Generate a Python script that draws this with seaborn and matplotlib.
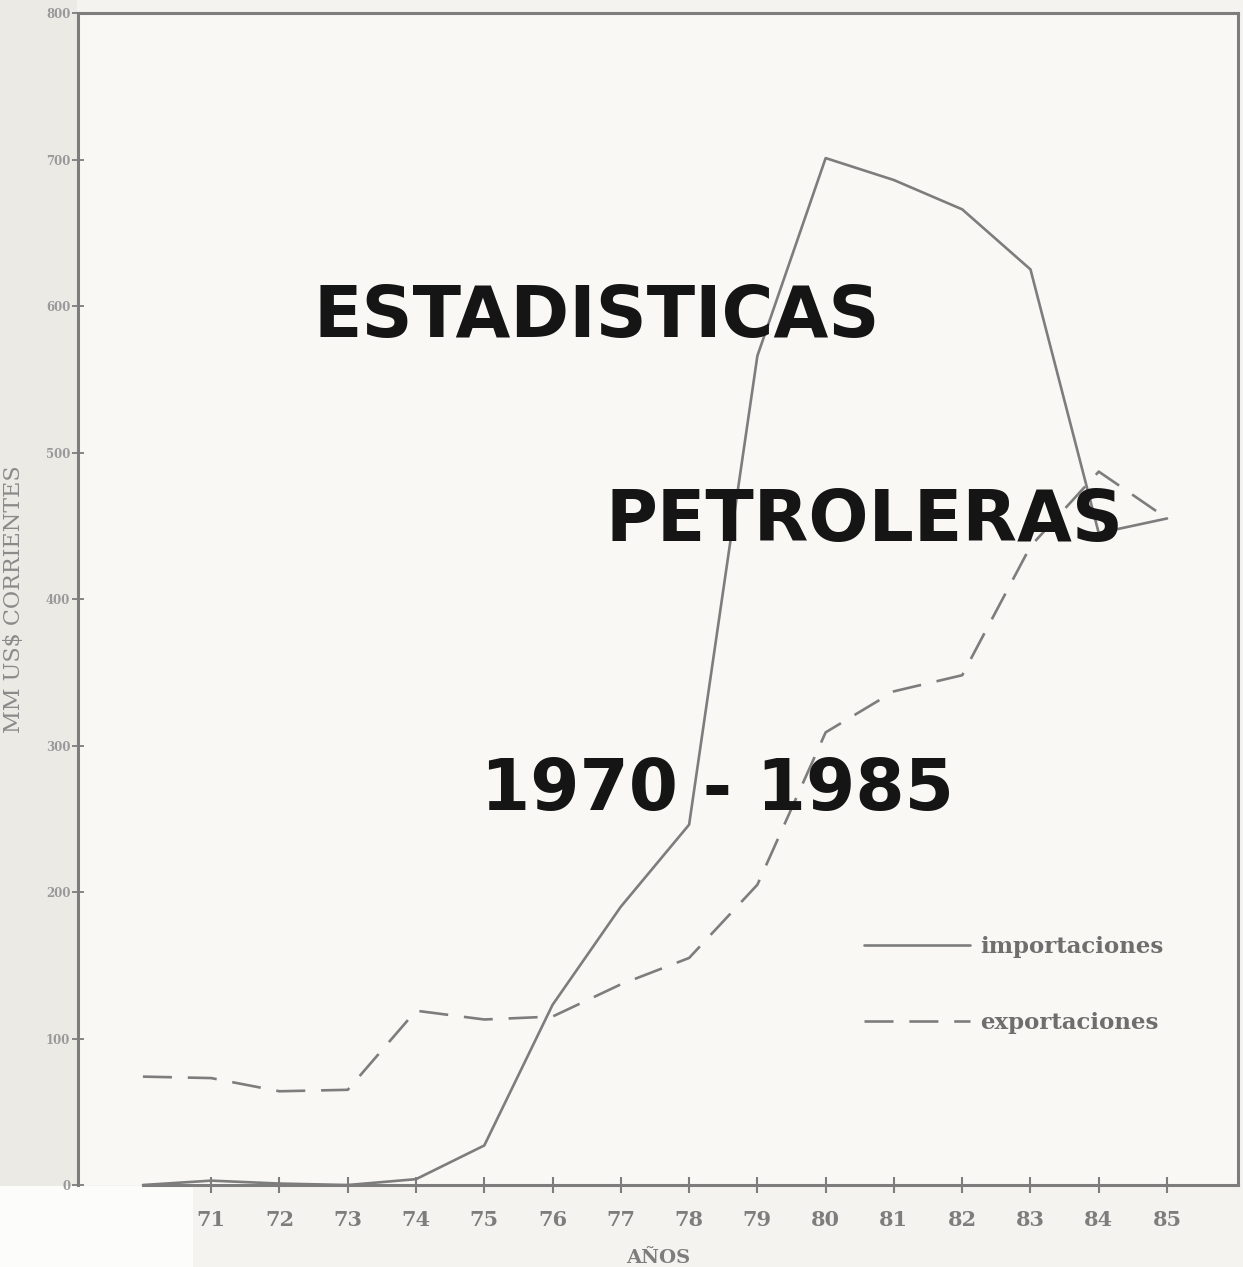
import numpy as np
import pandas as pd
import matplotlib
matplotlib.use("Agg")
import matplotlib.pyplot as plt
import seaborn as sns

# values (MM US$ corrientes)
years = [70, 71, 72, 73, 74, 75, 76, 77, 78, 79, 80, 81, 82, 83, 84, 85]
importaciones = [0, 3, 1, 0, 4, 27, 123, 190, 246, 566, 701, 686, 666, 625, 445, 455]
exportaciones = [74, 73, 64, 65, 119, 113, 115, 137, 155, 205, 309, 337, 348, 436, 487, 455]

xtick_labels = ["71", "72", "73", "74", "75", "76", "77", "78",
                "79", "80", "81", "82", "83", "84", "85"]
ytick_values = [0, 100, 200, 300, 400, 500, 600, 700, 800]

titulo = ["ESTADISTICAS", "PETROLERAS", "1970 - 1985"]

GRIS = "#7d7d7d"
SERIF = ["DejaVu Serif"]

sns.set_theme(style="white")

df = pd.DataFrame({
    "anio": years * 2,
    "valor": importaciones + exportaciones,
    "serie": ["importaciones"] * len(years) + ["exportaciones"] * len(years),
})

fig = plt.figure(figsize=(12.43, 12.67), dpi=100, facecolor="#f4f3ef")
# greyish left margin and a white scrap of paper in the lower left corner
fig.patches.append(plt.Rectangle((0, 0.064), 0.062, 0.936, transform=fig.transFigure,
                                 facecolor="#ebeae5", edgecolor="none", zorder=-5))
fig.patches.append(plt.Rectangle((0, 0), 0.155, 0.064, transform=fig.transFigure,
                                 facecolor="#fcfcfb", edgecolor="none", zorder=-5))
ax = fig.add_axes([0.0628, 0.0647, 0.9332, 0.925])
ax.set_facecolor("#f9f8f5")

sns.lineplot(data=df, x="anio", y="valor", style="serie",
             style_order=["importaciones", "exportaciones"],
             dashes={"importaciones": "", "exportaciones": (11, 6)},
             color=GRIS, linewidth=1.9, ax=ax)

ax.set_xlim(69.05, 86.04)
ax.set_ylim(0, 800)

ax.set_xticks(years[1:])
ax.set_xticklabels(xtick_labels)
ax.set_yticks(ytick_values)
ax.set_yticklabels([str(v) for v in ytick_values])

for lab in ax.get_xticklabels():
    lab.set_fontfamily(SERIF)
    lab.set_fontweight("bold")
    lab.set_fontsize(15)
    lab.set_color(GRIS)
for lab in ax.get_yticklabels():
    lab.set_fontfamily(SERIF)
    lab.set_fontweight("bold")
    lab.set_fontsize(8.5)
    lab.set_color("#999999")

ax.tick_params(axis="x", direction="inout", length=12, width=1.5,
               color=GRIS, pad=12, bottom=True)
ax.tick_params(axis="y", direction="inout", length=9, width=1.3,
               color=GRIS, pad=1, left=True)

ax.set_xlabel("AÑOS", fontfamily=SERIF, fontweight="bold", fontsize=14,
              color=GRIS, labelpad=14)
ax.set_ylabel("MM US$ CORRIENTES", fontfamily=SERIF, fontsize=16,
              color="#8a8a8a")
ax.yaxis.set_label_coords(-0.046, 0.5)

leg = ax.legend(loc="center left", bbox_to_anchor=(0.66, 0.171),
                frameon=False, handlelength=4.6, labelspacing=2.35,
                handletextpad=0.45,
                prop={"family": SERIF, "weight": "bold", "size": 16.5})
for t in leg.get_texts():
    t.set_color("#6e6e6e")

# big headline over the plot
ax.text(0.447, 0.740, titulo[0], transform=ax.transAxes, ha="center",
        va="center", fontsize=51, fontweight="bold", color="#151515",
        family=["DejaVu Sans"])
ax.text(0.678, 0.566, titulo[1], transform=ax.transAxes, ha="center",
        va="center", fontsize=51, fontweight="bold", color="#151515",
        family=["DejaVu Sans"])
ax.text(0.551, 0.337, titulo[2], transform=ax.transAxes, ha="center",
        va="center", fontsize=51, fontweight="bold", color="#151515",
        family=["DejaVu Sans"])

for side in ["top", "left", "right", "bottom"]:
    ax.spines[side].set_color(GRIS)
    ax.spines[side].set_linewidth(2.2)
ax.spines["bottom"].set_bounds(70, 86.04)

fig.savefig("out.png", dpi=100, facecolor=fig.get_facecolor())
